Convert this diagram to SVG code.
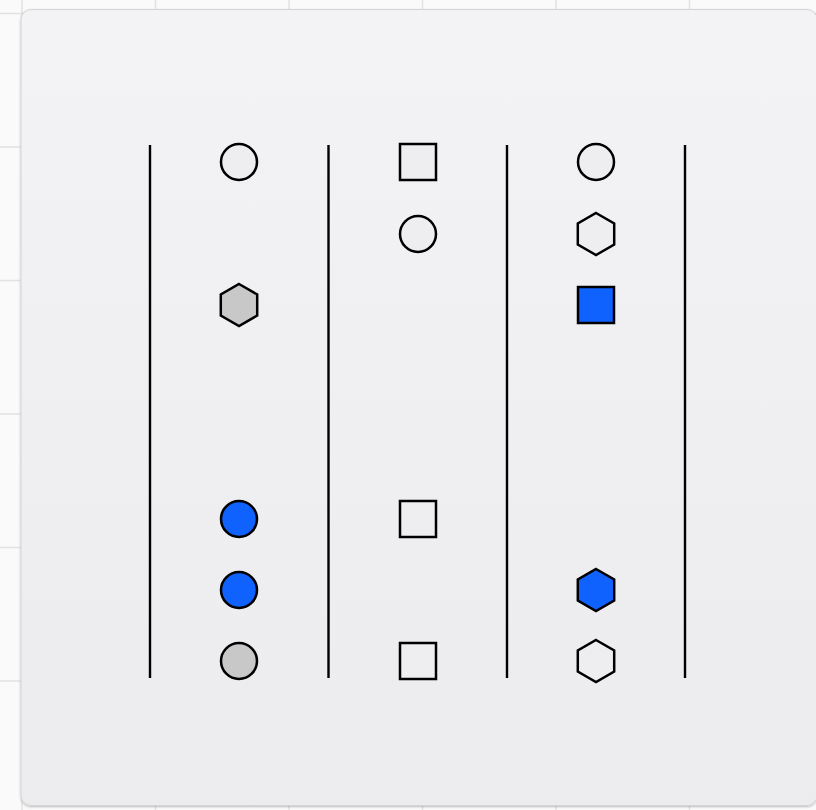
<svg xmlns="http://www.w3.org/2000/svg" width="816" height="810" viewBox="0 0 816 810">
<defs>
<linearGradient id="pg" x1="0" y1="0" x2="0" y2="1">
<stop offset="0" stop-color="#f3f3f5"/>
<stop offset="1" stop-color="#ececee"/>
</linearGradient>
<filter id="sh" x="-5%" y="-5%" width="110%" height="110%">
<feDropShadow dx="0" dy="1" stdDeviation="1.2" flood-color="#000" flood-opacity="0.25"/>
</filter>
<polygon id="hex" points="0,-21 18.2,-10.5 18.2,10.5 0,21 -18.2,10.5 -18.2,-10.5"/>
</defs>
<style>
.grid{stroke:#e2e2e2;stroke-width:1.5}
.lane{stroke:#000;stroke-width:2.4}
.s{stroke:#000;stroke-width:2.5}
.w{fill:#eeeef0}
.b{fill:#1062fe}
.g{fill:#c8c8c8}
</style>
<rect width="816" height="810" fill="#fafafa"/>
<g class="grid">
<line x1="22" y1="0" x2="22" y2="810"/>
<line x1="155.5" y1="0" x2="155.5" y2="810"/>
<line x1="289" y1="0" x2="289" y2="810"/>
<line x1="422.5" y1="0" x2="422.5" y2="810"/>
<line x1="556" y1="0" x2="556" y2="810"/>
<line x1="689.5" y1="0" x2="689.5" y2="810"/>
<line x1="0" y1="13.5" x2="816" y2="13.5"/>
<line x1="0" y1="147" x2="816" y2="147"/>
<line x1="0" y1="280.5" x2="816" y2="280.5"/>
<line x1="0" y1="414" x2="816" y2="414"/>
<line x1="0" y1="547.5" x2="816" y2="547.5"/>
<line x1="0" y1="681" x2="816" y2="681"/>
</g>
<rect x="21" y="9.5" width="796" height="796" rx="10" fill="url(#pg)" stroke="#d4d4d6" stroke-width="1" filter="url(#sh)"/>
<g id="lanes" class="lane">
<line x1="150" y1="145" x2="150" y2="678"/>
<line x1="328.5" y1="145" x2="328.5" y2="678"/>
<line x1="507" y1="145" x2="507" y2="678"/>
<line x1="685" y1="145" x2="685" y2="678"/>
</g>
<g id="connectors"></g>
<g id="n1"><circle class="s w" cx="239" cy="162" r="18"/></g>
<g id="n2"><use href="#hex" class="s g" x="239" y="305"/></g>
<g id="n3"><circle class="s b" cx="239" cy="519" r="18"/></g>
<g id="n4"><circle class="s b" cx="239" cy="590" r="18"/></g>
<g id="n5"><circle class="s g" cx="239" cy="661" r="18"/></g>
<g id="n6"><rect class="s w" x="400" y="144" width="36" height="36"/></g>
<g id="n7"><circle class="s w" cx="418" cy="234" r="18"/></g>
<g id="n8"><rect class="s w" x="400" y="501" width="36" height="36"/></g>
<g id="n9"><rect class="s w" x="400" y="643" width="36" height="36"/></g>
<g id="n10"><circle class="s w" cx="596" cy="162" r="18"/></g>
<g id="n11"><use href="#hex" class="s w" x="596" y="234"/></g>
<g id="n12"><rect class="s b" x="578" y="287" width="36" height="36"/></g>
<g id="n13"><use href="#hex" class="s b" x="596" y="590"/></g>
<g id="n14"><use href="#hex" class="s w" x="596" y="661"/></g>
</svg>
